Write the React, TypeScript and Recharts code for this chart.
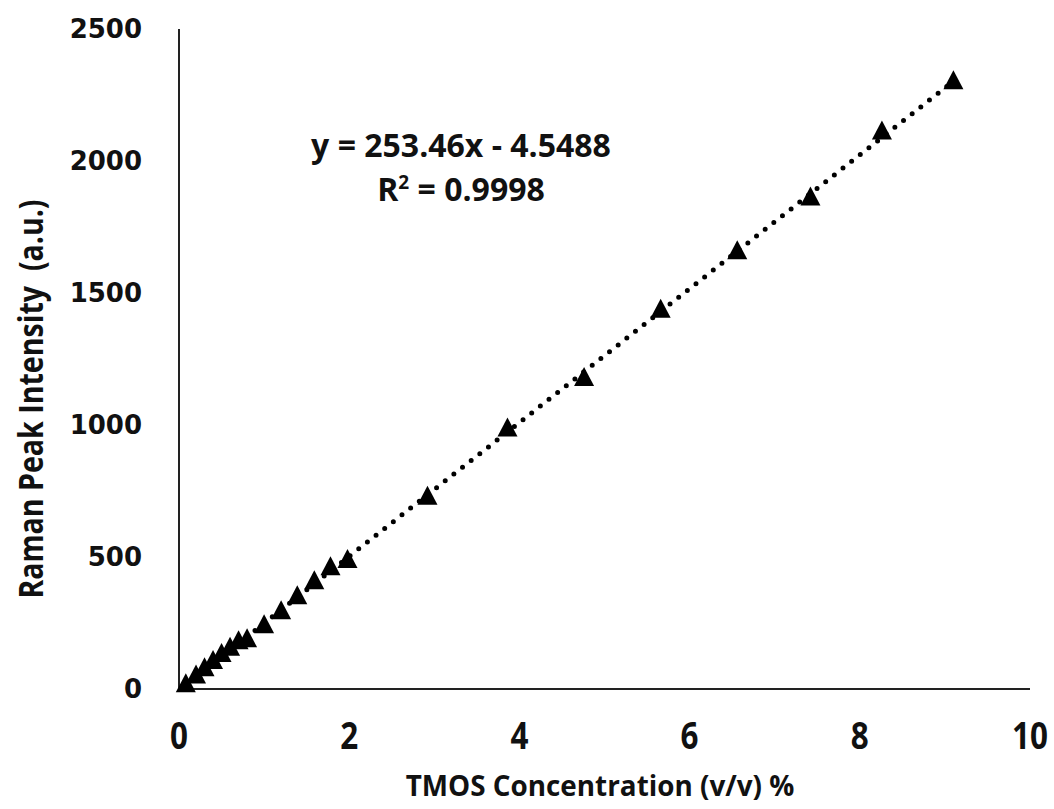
import React from "react";
import { ScatterChart, Scatter, XAxis, YAxis } from "recharts";

const concentration = [0.08, 0.2, 0.3, 0.4, 0.5, 0.6, 0.7, 0.8, 1.0, 1.2, 1.39, 1.59, 1.78, 1.98, 2.92, 3.86, 4.76, 5.66, 6.56, 7.42, 8.26, 9.1];
const intensity = [12, 45, 72, 100, 126, 150, 175, 182, 235, 288, 345, 402, 455, 482, 722, 980, 1172, 1430, 1652, 1855, 2105, 2296];
const xTicks = [0, 2, 4, 6, 8, 10];
const yTicks = [0, 500, 1000, 1500, 2000, 2500];
const slope = 253.46;
const intercept = -4.5488;
const equationText = "y = 253.46x - 4.5488";
const r2Value = "0.9998";
const xTitle = "TMOS Concentration (v/v) %";
const yTitle = "Raman Peak Intensity  (a.u.)";

const points = concentration.map((x, i) => ({ x, y: intensity[i] }));
const xMin = Math.min(...concentration);
const xMax = Math.max(...concentration);
const trend = [
  { x: xMin, y: slope * xMin + intercept },
  { x: xMax, y: slope * xMax + intercept },
];

const font = "'Open Sans', sans-serif";

function Triangle(props: any) {
  const { cx, cy } = props;
  if (cx == null || cy == null) return null;
  const w = 20;
  const h = 19;
  const d = `M${cx},${cy - (2 * h) / 3} L${cx + w / 2},${cy + h / 3} L${cx - w / 2},${cy + h / 3} Z`;
  return <path d={d} fill="#000" />;
}

function XTick(props: any) {
  const { x, y, payload } = props;
  return (
    <g transform={`translate(${x},${y})`}>
      <text
        transform="scale(0.85,1)"
        textAnchor="middle"
        dy="0.71em"
        fontFamily={font}
        fontWeight={700}
        fontSize={37}
        fill="#111"
      >
        {payload.value}
      </text>
    </g>
  );
}

export default function App() {
  return (
    <div style={{ position: "absolute", left: 0, top: 0, width: 1054, height: 809, background: "#fff" }}>
      <ScatterChart width={1054} height={809} margin={{ top: 29, right: 24, bottom: 0, left: 0 }}>
        <XAxis
          type="number"
          dataKey="x"
          domain={[0, 10]}
          ticks={xTicks}
          tickLine={false}
          tickSize={0}
          tickMargin={34}
          height={120}
          axisLine={{ stroke: "#222", strokeWidth: 2 }}
          tick={<XTick />}
        />
        <YAxis
          type="number"
          dataKey="y"
          domain={[0, 2500]}
          ticks={yTicks}
          tickLine={false}
          tickSize={0}
          tickMargin={37}
          width={179}
          axisLine={{ stroke: "#222", strokeWidth: 2 }}
          tick={{ fontFamily: "'DejaVu Sans', sans-serif", fontWeight: 700, fontSize: 26, fill: "#111" }}
        />
        <Scatter data={points} shape={<Triangle />} fill="#000" isAnimationActive={false} />
        <Scatter
          data={trend}
          shape={() => null}
          line={{ stroke: "#000", strokeWidth: 5, strokeDasharray: "0 11", strokeLinecap: "round" }}
          isAnimationActive={false}
        />
      </ScatterChart>
      <div style={{ position: "absolute", left: 0, width: 922, top: 123, textAlign: "center", fontFamily: font, fontWeight: 700, fontSize: 32, color: "#111", lineHeight: "44px" }}>
        <div>{equationText}</div>
        <div>
          R<sup style={{ fontSize: 19, verticalAlign: "top", lineHeight: "30px" }}>2</sup> = {r2Value}
        </div>
      </div>
      <div
        style={{
          position: "absolute",
          left: 600,
          top: 785,
          transform: "translate(-50%, -50%) scale(0.96,1)",
          whiteSpace: "pre",
          fontFamily: font,
          fontWeight: 700,
          fontSize: 29,
          color: "#111",
          lineHeight: "40px",
        }}
      >
        {xTitle}
      </div>
      <div
        style={{
          position: "absolute",
          left: 30,
          top: 399,
          transform: "translate(-50%, -50%) rotate(-90deg) scale(0.84,1)",
          whiteSpace: "pre",
          fontFamily: font,
          fontWeight: 700,
          fontSize: 34,
          color: "#111",
          lineHeight: "40px",
        }}
      >
        {yTitle}
      </div>
    </div>
  );
}
